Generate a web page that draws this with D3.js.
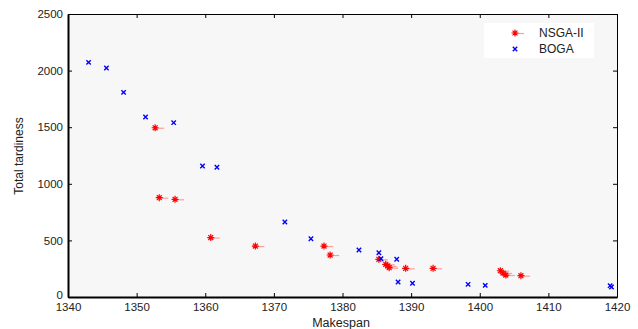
<!DOCTYPE html>
<html>
<head>
<meta charset="utf-8">
<script src="https://cdn.jsdelivr.net/npm/d3@7"></script>
<style>
  body { margin: 0; background: #fff; }
  text { font-family: "Liberation Sans", Arial, sans-serif; }
</style>
</head>
<body>
<svg width="638" height="329"></svg>
<script>
// NSGA-II solutions (makespan, total tardiness)
const nsgaMakespan = [1352.7, 1353.3, 1355.6, 1360.8, 1367.3, 1377.3, 1378.2, 1385.3, 1386.3, 1386.6, 1386.8, 1389.2, 1393.2, 1403.0, 1403.4, 1403.8, 1406.0];
const nsgaTardiness = [1495, 877, 863, 525, 450, 450, 371, 333, 289, 274, 259, 253, 253, 232, 212, 194, 188];

// BOGA solutions
const bogaMakespan = [1343.0, 1345.6, 1348.1, 1351.3, 1355.4, 1359.6, 1361.7, 1371.6, 1375.4, 1382.4, 1385.3, 1385.6, 1387.9, 1388.1, 1390.2, 1398.3, 1400.8, 1419.0, 1419.2];
const bogaTardiness = [2073, 2023, 1808, 1590, 1540, 1157, 1146, 662, 515, 415, 391, 338, 333, 132, 121, 112, 103, 100, 88];

const xTicks = [1340, 1350, 1360, 1370, 1380, 1390, 1400, 1410, 1420];
const yTicks = [0, 500, 1000, 1500, 2000, 2500];
const legendLabels = ["NSGA-II", "BOGA"];

const svg = d3.select("svg");
const margin = {top: 14, right: 21, bottom: 32, left: 68};
const w = 638 - margin.left - margin.right;
const h = 329 - margin.top - margin.bottom;

const x = d3.scaleLinear().domain([1340, 1420]).range([0, w]);
const y = d3.scaleLinear().domain([0, 2500]).range([h, 0]);

const g = svg.append("g").attr("transform", `translate(${margin.left},${margin.top})`);

// plot background
g.append("rect").attr("width", w).attr("height", h).attr("fill", "#f7f7f7");

// axes (ticks point inward)
const fmt = d3.format("d");
const axBottom = g.append("g").attr("transform", `translate(0,${h})`)
  .call(d3.axisBottom(x).tickValues(xTicks).tickFormat(fmt).tickSizeInner(-4).tickSizeOuter(0).tickPadding(6));
const axLeft = g.append("g")
  .call(d3.axisLeft(y).tickValues(yTicks).tickFormat(fmt).tickSizeInner(-4).tickSizeOuter(0).tickPadding(5));
const axTop = g.append("g")
  .call(d3.axisTop(x).tickValues(xTicks).tickSizeInner(-4).tickSizeOuter(0).tickFormat(""));
const axRight = g.append("g").attr("transform", `translate(${w},0)`)
  .call(d3.axisRight(y).tickValues(yTicks).tickSizeInner(-4).tickSizeOuter(0).tickFormat(""));

[axBottom, axLeft].forEach(a => {
  a.select(".domain").attr("stroke", "#000").attr("stroke-width", 2);
  a.selectAll("text").attr("font-size", 11.5).attr("fill", "#222");
});
// lift the "0" label a touch so it clears the first x label
axLeft.selectAll(".tick text").filter(d => d === 0).attr("dy", "0.15em");
[axTop, axRight].forEach(a => a.select(".domain").attr("stroke", "#000").attr("stroke-width", 1));
svg.selectAll(".tick line").attr("stroke", "#000");

// axis titles
svg.append("text").attr("x", 341).attr("y", 327).attr("text-anchor", "middle")
  .attr("font-size", 12.5).attr("fill", "#222").text("Makespan");
svg.append("text").attr("transform", "translate(23,156) rotate(-90)").attr("text-anchor", "middle")
  .attr("font-size", 12).attr("fill", "#222").text("Total tardiness");

// marker helpers
function drawStar(sel, cx, cy) {
  const r = 3.5;
  const gg = sel.append("g").attr("transform", `translate(${cx},${cy})`);
  gg.append("line").attr("x1", 0).attr("x2", 9).attr("y1", 0.5).attr("y2", 0.5)
    .attr("stroke", "#f88").attr("stroke-width", 1.2).attr("opacity", 0.8);
  gg.append("path")
    .attr("d", `M${-r},0H${r}M0,${-r}V${r}M${-r * 0.7},${-r * 0.7}L${r * 0.7},${r * 0.7}M${-r * 0.7},${r * 0.7}L${r * 0.7},${-r * 0.7}`)
    .attr("stroke", "#f00").attr("stroke-width", 1.2).attr("fill", "none");
}
function drawCross(sel, cx, cy) {
  const r = 2.2;
  sel.append("path").attr("transform", `translate(${cx},${cy})`)
    .attr("d", `M${-r},${-r}L${r},${r}M${-r},${r}L${r},${-r}`)
    .attr("stroke", "#00f").attr("stroke-width", 1.4).attr("fill", "none");
}

const nsgaG = g.append("g");
nsgaMakespan.forEach((m, i) => drawStar(nsgaG, x(m), y(nsgaTardiness[i])));
const bogaG = g.append("g");
bogaMakespan.forEach((m, i) => drawCross(bogaG, x(m), y(bogaTardiness[i])));

// legend
const lg = svg.append("g").attr("transform", "translate(484,23)");
lg.append("rect").attr("width", 110).attr("height", 35).attr("fill", "#fff");
drawStar(lg, 31, 10);
drawCross(lg, 31, 26);
legendLabels.forEach((t, i) => {
  lg.append("text").attr("x", 55).attr("y", 10 + i * 16).attr("dy", "0.35em")
    .attr("font-size", 12).attr("fill", "#222").text(t);
});
</script>
</body>
</html>
